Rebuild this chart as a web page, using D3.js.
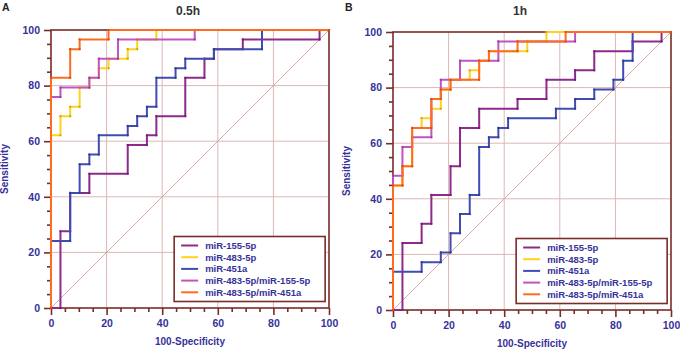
<!DOCTYPE html>
<html>
<head>
<meta charset="utf-8">
<script src="https://cdn.jsdelivr.net/npm/d3@7"></script>
<style>
body { margin: 0; background: #fff; }
svg text { font-family: "Liberation Sans", Arial, sans-serif; font-weight: bold; }
</style>
</head>
<body>
<div id="chart"></div>
<script>
const seriesNames = ['miR-155-5p', 'miR-483-5p', 'miR-451a', 'miR-483-5p/miR-155-5p', 'miR-483-5p/miR-451a'];
const seriesColors = ['#8e2a8c', '#ffd21e', '#3f4db3', '#c154c1', '#ff6c1f'];

const majorTicks = [0, 20, 40, 60, 80, 100];

// ROC step vertices [100-Specificity, Sensitivity], 0.5h
const a155 = [[0,0],[3.4,0],[3.4,27.6],[6.9,27.6],[6.9,41.4],[13.8,41.4],[13.8,48.3],[27.6,48.3],[27.6,58.6],[34.5,58.6],[34.5,62.1],[37.9,62.1],[37.9,69.0],[48.3,69.0],[48.3,82.8],[55.2,82.8],[55.2,89.7],[58.6,89.7],[58.6,93.1],[69.0,93.1],[69.0,96.6],[96.6,96.6],[96.6,100],[100,100]];
const a483 = [[0,0],[0,62.1],[3.4,62.1],[3.4,69.0],[6.9,69.0],[6.9,72.4],[10.3,72.4],[10.3,79.3],[13.8,79.3],[13.8,82.8],[17.2,82.8],[17.2,86.2],[20.7,86.2],[20.7,89.7],[27.6,89.7],[27.6,93.1],[31.0,93.1],[31.0,96.6],[37.9,96.6],[37.9,100],[100,100]];
const a451a = [[0,0],[0,24.1],[6.9,24.1],[6.9,41.4],[10.3,41.4],[10.3,51.7],[13.8,51.7],[13.8,55.2],[17.2,55.2],[17.2,62.1],[27.6,62.1],[27.6,65.5],[31.0,65.5],[31.0,69.0],[34.5,69.0],[34.5,72.4],[37.9,72.4],[37.9,82.8],[44.8,82.8],[44.8,86.2],[48.3,86.2],[48.3,89.7],[58.6,89.7],[58.6,93.1],[75.9,93.1],[75.9,100],[100,100]];
const a483by155 = [[0,0],[0,75.9],[3.4,75.9],[3.4,79.3],[13.8,79.3],[13.8,82.8],[17.2,82.8],[17.2,89.7],[24.1,89.7],[24.1,96.6],[51.7,96.6],[51.7,100],[100,100]];
const a483by451a = [[0,0],[0,82.8],[6.9,82.8],[6.9,93.1],[10.3,93.1],[10.3,96.6],[20.7,96.6],[20.7,100],[100,100]];

// ROC step vertices, 1h
const b155 = [[0,0],[3.4,0],[3.4,24.1],[10.3,24.1],[10.3,31.0],[13.8,31.0],[13.8,41.4],[20.7,41.4],[20.7,51.7],[24.1,51.7],[24.1,65.5],[31.0,65.5],[31.0,72.4],[44.8,72.4],[44.8,75.9],[55.2,75.9],[55.2,82.8],[65.5,82.8],[65.5,86.2],[72.4,86.2],[72.4,93.1],[86.2,93.1],[86.2,96.6],[96.6,96.6],[96.6,100],[100,100]];
const b483 = [[0,0],[0,44.8],[3.4,44.8],[3.4,51.7],[6.9,51.7],[6.9,65.5],[10.3,65.5],[10.3,69.0],[13.8,69.0],[13.8,72.4],[17.2,72.4],[17.2,79.3],[20.7,79.3],[20.7,82.8],[27.6,82.8],[27.6,86.2],[31.0,86.2],[31.0,89.7],[34.5,89.7],[34.5,93.1],[48.3,93.1],[48.3,96.6],[55.2,96.6],[55.2,100],[100,100]];
const b451a = [[0,0],[0,13.8],[10.3,13.8],[10.3,17.2],[17.2,17.2],[17.2,20.7],[20.7,20.7],[20.7,27.6],[24.1,27.6],[24.1,34.5],[27.6,34.5],[27.6,41.4],[31.0,41.4],[31.0,58.6],[34.5,58.6],[34.5,62.1],[37.9,62.1],[37.9,65.5],[41.4,65.5],[41.4,69.0],[58.6,69.0],[58.6,72.4],[65.5,72.4],[65.5,75.9],[72.4,75.9],[72.4,79.3],[79.3,79.3],[79.3,82.8],[82.8,82.8],[82.8,89.7],[86.2,89.7],[86.2,100],[100,100]];
const b483by155 = [[0,0],[0,48.3],[3.4,48.3],[3.4,58.6],[6.9,58.6],[6.9,62.1],[13.8,62.1],[13.8,75.9],[17.2,75.9],[17.2,82.8],[24.1,82.8],[24.1,89.7],[37.9,89.7],[37.9,96.6],[65.5,96.6],[65.5,100],[100,100]];
const b483by451a = [[0,0],[0,44.8],[3.4,44.8],[3.4,51.7],[6.9,51.7],[6.9,65.5],[13.8,65.5],[13.8,75.9],[17.2,75.9],[17.2,79.3],[20.7,79.3],[20.7,82.8],[31.0,82.8],[31.0,89.7],[34.5,89.7],[34.5,93.1],[44.8,93.1],[44.8,96.6],[62.1,96.6],[62.1,100],[100,100]];

const width = 680;
const height = 357;
const axisColor = '#7a2c28';
const textColor = '#36329a';
const gridColor = '#dcb7b7';

const panels = [
  {letter: 'A', title: '0.5h', left: 51, top: 30, titleX: 188, curves: [a155, a483, a451a, a483by155, a483by451a]},
  {letter: 'B', title: '1h', left: 393, top: 32, titleX: 520, curves: [b155, b483, b451a, b483by155, b483by451a]}
];
const plotSize = 278;

const svg = d3.select('#chart')
  .append('svg')
  .attr('width', width)
  .attr('height', height);

panels.forEach((p, pi) => {
  const xScale = d3.scaleLinear().domain([0, 100]).range([p.left, p.left + plotSize]);
  const yScale = d3.scaleLinear().domain([0, 100]).range([p.top + plotSize, p.top]);
  const g = svg.append('g');

  // panel letter and title
  g.append('text')
    .attr('x', pi === 0 ? 2 : 345)
    .attr('y', 11)
    .attr('font-size', 10.5)
    .attr('fill', '#222')
    .text(p.letter);
  g.append('text')
    .attr('x', p.titleX)
    .attr('y', 15)
    .attr('text-anchor', 'middle')
    .attr('font-size', 12)
    .attr('fill', '#333')
    .text(p.title);

  // grid
  g.append('g')
    .selectAll('line')
    .data([20, 40, 60, 80])
    .enter()
    .append('line')
    .attr('x1', d => xScale(d)).attr('x2', d => xScale(d))
    .attr('y1', yScale(0)).attr('y2', yScale(100))
    .attr('stroke', gridColor).attr('stroke-width', 1);
  g.append('g')
    .selectAll('line')
    .data([20, 40, 60, 80])
    .enter()
    .append('line')
    .attr('y1', d => yScale(d)).attr('y2', d => yScale(d))
    .attr('x1', xScale(0)).attr('x2', xScale(100))
    .attr('stroke', gridColor).attr('stroke-width', 1);

  // reference diagonal
  g.append('line')
    .attr('x1', xScale(0)).attr('y1', yScale(0))
    .attr('x2', xScale(100)).attr('y2', yScale(100))
    .attr('stroke', '#d9a9aa').attr('stroke-width', 1);

  // frame
  g.append('rect')
    .attr('x', xScale(0)).attr('y', yScale(100))
    .attr('width', plotSize).attr('height', plotSize)
    .attr('fill', 'none')
    .attr('stroke', axisColor)
    .attr('stroke-width', 1.6);

  // axes: major + minor ticks
  const minorTicks = d3.range(0, 101, 5).filter(v => v % 20 !== 0);
  const styleAxis = sel => {
    sel.select('.domain').remove();
    sel.selectAll('line').attr('stroke', axisColor).attr('stroke-width', 1.6);
    sel.selectAll('text').attr('fill', textColor).attr('font-size', 10.5);
  };
  g.append('g')
    .attr('transform', `translate(0, ${yScale(0)})`)
    .call(d3.axisBottom(xScale).tickValues(minorTicks).tickFormat('').tickSize(4).tickSizeOuter(0))
    .call(styleAxis);
  g.append('g')
    .attr('transform', `translate(0, ${yScale(0)})`)
    .call(d3.axisBottom(xScale).tickValues(majorTicks).tickSize(7).tickPadding(5).tickSizeOuter(0))
    .call(styleAxis);
  g.append('g')
    .attr('transform', `translate(${xScale(0)}, 0)`)
    .call(d3.axisLeft(yScale).tickValues(minorTicks).tickFormat('').tickSize(4).tickSizeOuter(0))
    .call(styleAxis);
  g.append('g')
    .attr('transform', `translate(${xScale(0)}, 0)`)
    .call(d3.axisLeft(yScale).tickValues(majorTicks).tickSize(7).tickPadding(4).tickSizeOuter(0))
    .call(styleAxis);

  // axis titles
  g.append('text')
    .attr('x', xScale(50))
    .attr('y', yScale(0) + 37)
    .attr('text-anchor', 'middle')
    .attr('font-size', 10)
    .attr('fill', textColor)
    .text('100-Specificity');
  g.append('text')
    .attr('transform', `translate(${p.left - 43}, ${yScale(50)}) rotate(-90)`)
    .attr('text-anchor', 'middle')
    .attr('font-size', 10)
    .attr('fill', textColor)
    .text('Sensitivity');

  // ROC curves
  const line = d3.line()
    .x(d => xScale(d[0]))
    .y(d => yScale(d[1]));
  p.curves.forEach((c, i) => {
    g.append('path')
      .datum(c)
      .attr('d', line)
      .attr('fill', 'none')
      .attr('stroke', seriesColors[i])
      .attr('stroke-width', 2)
      .attr('stroke-linejoin', 'miter');
    g.append('g')
      .selectAll('circle')
      .data(c)
      .enter()
      .append('circle')
      .attr('cx', d => xScale(d[0]))
      .attr('cy', d => yScale(d[1]))
      .attr('r', 1.1)
      .attr('fill', d3.color(seriesColors[i]).darker(0.7));
  });

  // legend
  const lx = xScale(44.3);
  const ly = yScale(0) - 71.5;
  const legend = g.append('g').attr('transform', `translate(${lx}, ${ly})`);
  legend.append('rect')
    .attr('width', 151).attr('height', 65)
    .attr('fill', '#fff')
    .attr('stroke', axisColor)
    .attr('stroke-width', 1.6);
  seriesNames.forEach((name, i) => {
    const yy = 9 + i * 11.7;
    legend.append('line')
      .attr('x1', 7).attr('x2', 24)
      .attr('y1', yy).attr('y2', yy)
      .attr('stroke', seriesColors[i])
      .attr('stroke-width', 2);
    legend.append('text')
      .attr('x', 31)
      .attr('y', yy + 3.5)
      .attr('font-size', 9.5)
      .attr('fill', textColor)
      .text(name);
  });
});
</script>
</body>
</html>
